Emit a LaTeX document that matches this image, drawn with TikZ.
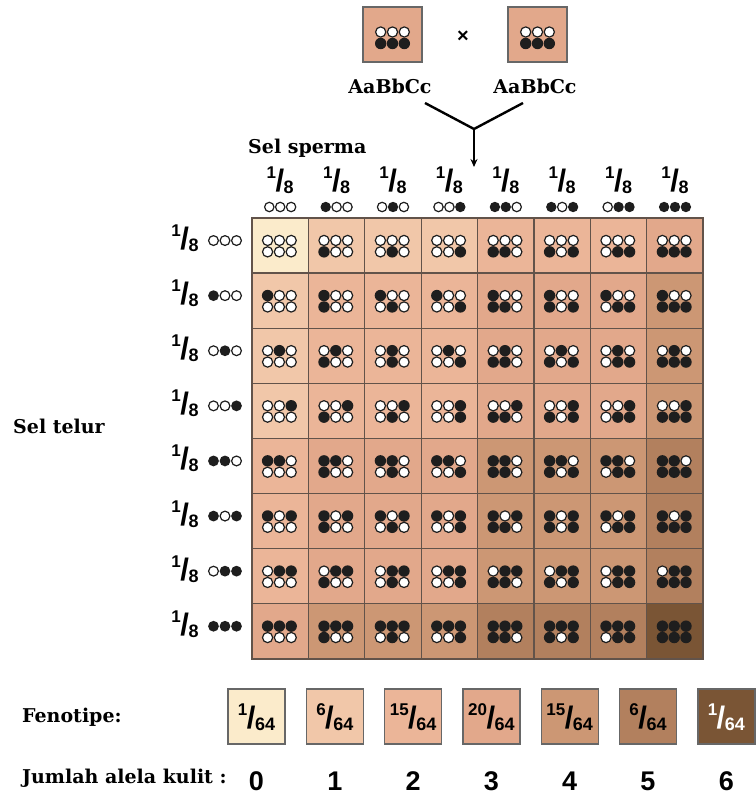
\documentclass[tikz,border=0pt]{standalone}
\usepackage{fontspec}
\setmainfont{DejaVu Serif}
\setsansfont{Liberation Sans}
\usetikzlibrary{arrows.meta}
\definecolor{col0}{HTML}{FBEBCB}
\definecolor{col1}{HTML}{F1C7A9}
\definecolor{col2}{HTML}{EBB598}
\definecolor{col3}{HTML}{E2A88B}
\definecolor{col4}{HTML}{CC9774}
\definecolor{col5}{HTML}{B2805E}
\definecolor{col6}{HTML}{7A5535}
\definecolor{dotk}{HTML}{1E1E1E}
\definecolor{cellline}{HTML}{62534A}
\definecolor{boxline}{HTML}{676767}
\newcommand\frc[2]{\raisebox{13pt}{\fontsize{17}{17}\selectfont#1}\kern-0.5pt{\fontsize{31}{31}\selectfont/}\kern-0.5pt\raisebox{-2pt}{\fontsize{18}{18}\selectfont#2}}
\def\rk{5.7pt}\def\rw{5.1pt}\def\dsp{11.8}
\newcommand\adot[3]{\ifnum#3=1\relax\fill[dotk](#1,#2)circle[radius=\rk];\else\filldraw[fill=white,draw=dotk,line width=1.2pt](#1,#2)circle[radius=\rw];\fi}
\newcommand\dotrow[5]{\adot{#1-\dsp}{#2}{#3}\adot{#1}{#2}{#4}\adot{#1+\dsp}{#2}{#5}}
\tikzset{
  serifbold/.style={font=\fontsize{19}{19}\selectfont\bfseries, inner sep=0pt},
  fracnode/.style={font=\sffamily\bfseries, inner sep=0pt},
  numnode/.style={font=\sffamily\bfseries\fontsize{27}{27}\selectfont, inner sep=0pt},
  phenobox/.style={draw=boxline, line width=1.4pt, minimum width=57pt, minimum height=55pt, inner sep=0pt},
  joinline/.style={line width=2.4pt, draw=black},
}
\begin{document}
\begin{tikzpicture}[x=1pt,y=-1pt]
\useasboundingbox (0,0) rectangle (755,795);
% parents
\node[phenobox, fill=col3, minimum width=59pt] (pL) at (392.5,34.5) {};
\node[phenobox, fill=col3, minimum width=59pt] (pR) at (537.5,34.5) {};
\dotrow{392.5}{32}{0}{0}{0}
\dotrow{392.5}{43.5}{1}{1}{1}
\dotrow{537.5}{32}{0}{0}{0}
\dotrow{537.5}{43.5}{1}{1}{1}
\node[font=\sffamily\bfseries\fontsize{20}{20}\selectfont, inner sep=0pt] (x) at (463,37) {×};
\node[serifbold, anchor=base] (gL) at (390,93) {AaBbCc};
\node[serifbold, anchor=base] (gR) at (535,93) {AaBbCc};
\coordinate (jL) at (425,103);
\coordinate (jR) at (523,103);
\coordinate (j) at (474,129);
\coordinate (jt) at (474,167);
\draw[joinline] (jL) -- (j) -- (jR);
\draw[joinline, -{Stealth[length=8pt,width=7pt]}] (j) -- (jt);
% labels
\node[serifbold, anchor=base west] (sperma) at (248,153) {Sel sperma};
\node[serifbold, anchor=base west] (telur) at (13,433) {Sel telur};
% header
\foreach \ca/\cb/\cc [count=\c from 0] in {0/0/0,1/0/0,0/1/0,0/0/1,1/1/0,1/0/1,0/1/1,1/1/1}{
  \pgfmathsetmacro\cx{252+56.4*(\c+0.5)}
  \node[fracnode, anchor=base] (h\c) at (\cx,191) {\frc{1}{8}};
  \def\rk{5.2pt}\def\rw{4.7pt}\def\dsp{10.9}
  \dotrow{\cx}{207}{\ca}{\cb}{\cc}
}
% grid
\foreach \ra/\rb/\rc [count=\r from 0] in {0/0/0,1/0/0,0/1/0,0/0/1,1/1/0,1/0/1,0/1/1,1/1/1}{
  \pgfmathsetmacro\cy{218+55.1*(\r+0.5)}
  \node[fracnode, anchor=base] (r\r) at (185,\cy+4) {\frc{1}{8}};
  {\def\rk{5.4pt}\def\rw{4.9pt}\def\dsp{11.5}
  \dotrow{225}{\cy-5}{\ra}{\rb}{\rc}}
  \foreach \ca/\cb/\cc [count=\c from 0] in {0/0/0,1/0/0,0/1/0,0/0/1,1/1/0,1/0/1,0/1/1,1/1/1}{
    \pgfmathsetmacro\cx{252+56.4*(\c+0.5)}
    \pgfmathtruncatemacro\n{\ra+\rb+\rc+\ca+\cb+\cc}
    \filldraw[fill=col\n, draw=cellline, line width=1.3pt] (\cx-28.2,\cy-27.55) rectangle (\cx+28.2,\cy+27.55);
    \dotrow{\cx-0.8}{\cy-5.1}{\ra}{\rb}{\rc}
    \dotrow{\cx-0.8}{\cy+6.3}{\ca}{\cb}{\cc}
  }
}
\draw[draw=cellline, line width=1.6pt] (252,218) rectangle (703,659);
% phenotypes
\node[serifbold, anchor=base west] (feno) at (22,722) {Fenotipe:};
\node[serifbold, anchor=base west] (jumlah) at (22,783) {Jumlah alela kulit :};
\foreach \num/\tc [count=\k from 0] in {1/black,6/black,15/black,20/black,15/black,6/black,1/white}{
  \pgfmathsetmacro\bx{256.5+78.3*\k}
  \node[phenobox, fill=col\k] (f\k) at (\bx,716.5) {};
  \node[fracnode, anchor=base, text=\tc] (ft\k) at (\bx,728) {\frc{\num}{64}};
  \node[numnode, anchor=base] (n\k) at (\bx,790) {\k};
}
\end{tikzpicture}
\end{document}
